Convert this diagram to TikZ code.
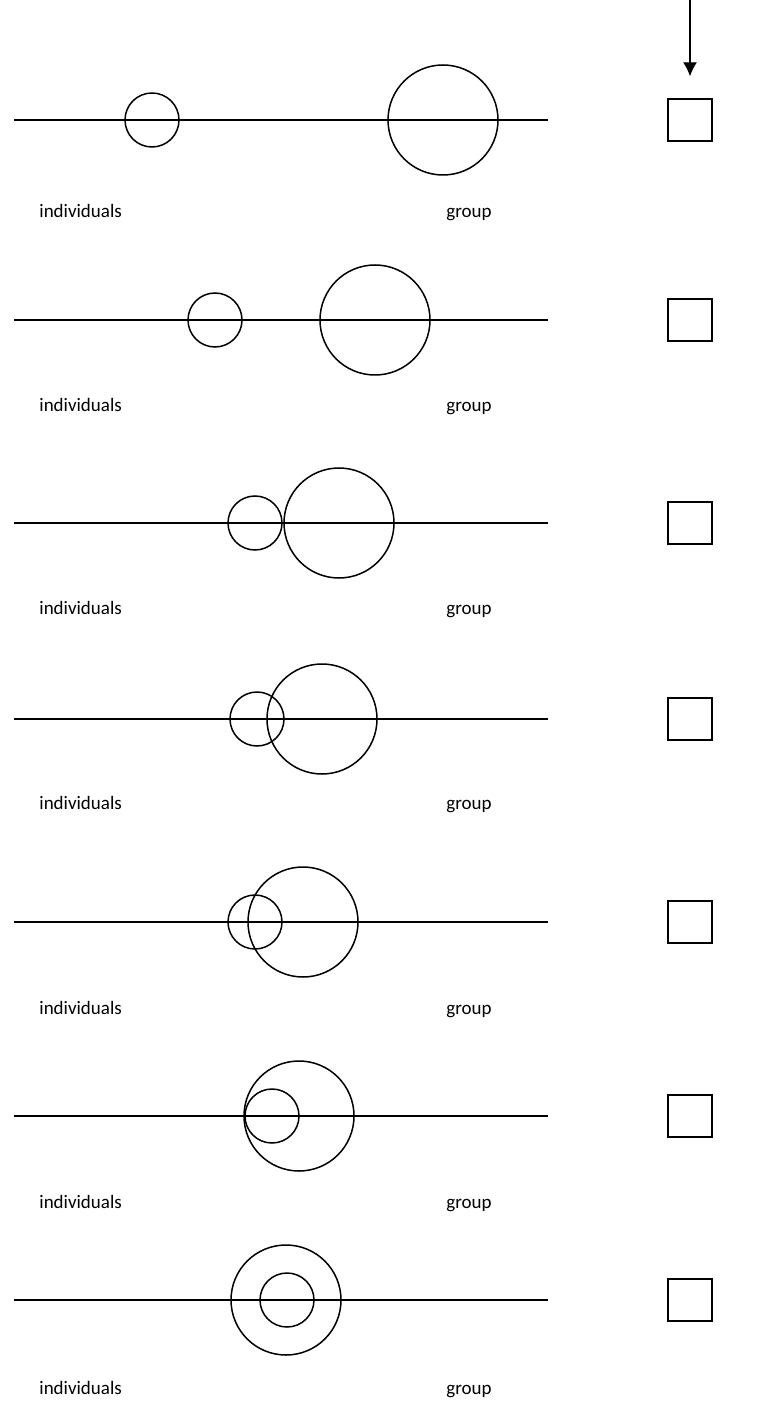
\documentclass[tikz,border=0pt]{standalone}
\usepackage{fontspec}
\setmainfont{Carlito}
\usetikzlibrary{arrows.meta}

\begin{document}
\begin{tikzpicture}[x=0.5pt, y=-0.5pt, every node/.style={font=\fontsize{9.5}{11}\selectfont},
    ind/.style={circle, draw, line width=0.75pt, inner sep=0pt, minimum size=27pt},
    grp/.style={circle, draw, line width=0.75pt, inner sep=0pt, minimum size=55pt},
    box/.style={draw, line width=0.7pt, inner sep=0pt, minimum width=22pt, minimum height=21pt},
    lab/.style={anchor=base west, inner sep=0pt}]
\useasboundingbox (0,0) rectangle (776,1416);
\foreach \s/\y/\a/\b/\t in {1/120/152/443/218, 2/320/215/375/412, 3/523/255/339/614, 4/719/257/322/809, 5/922/255/303/1014, 6/1116/272/299/1208, 7/1300/287/286/1394} {
    \coordinate (l\s) at (14,\y);
    \coordinate (r\s) at (548,\y);
    \draw[line width=0.75pt] (l\s) -- (r\s);
    \node[ind] (ind\s) at (\a,\y) {};
    \node[grp] (grp\s) at (\b,\y) {};
    \node[box] (box\s) at (690,\y) {};
    \node[lab] (li\s) at (39,\t) {individuals};
    \node[lab] (lg\s) at (446,\t) {group};
}
% arrow to first box
\coordinate (top) at (690,0);
\draw[line width=0.6pt, -{Latex[length=7pt,width=7pt]}, shorten >=11pt] (top) -- (box1);
\end{tikzpicture}
\end{document}
